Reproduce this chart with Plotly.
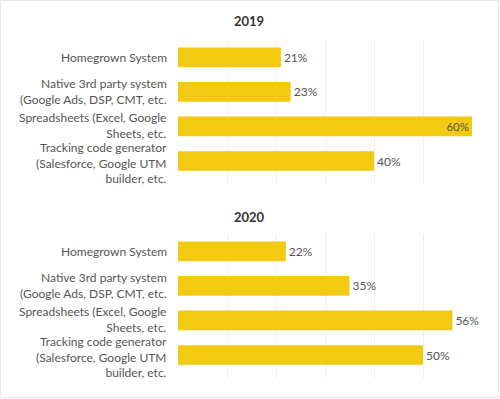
import plotly.graph_objects as go

categories = [
    "Homegrown System",
    "Native 3rd party system<br>(Google Ads, DSP, CMT, etc.",
    "Spreadsheets (Excel, Google<br>Sheets, etc.",
    "Tracking code generator<br>(Salesforce, Google UTM<br>builder, etc.",
]
values_2019 = [21, 23, 60, 40]
values_2020 = [22, 35, 56, 50]
years = ["2019", "2020"]
x_ticks = [0, 10, 20, 30, 40, 50, 60]

W, H = 500, 399
L, R = 178, 28
BAR = "#F2CA12"
FONT = "Lato"
LABEL_COLOR = "#555555"
LABEL_NUDGE = [0, 0, 1, -2]  # small vertical offsets (px) of the category labels

def ydom(top_px, bot_px):
    return [1 - bot_px / H, 1 - top_px / H]

fig = go.Figure()

for i, (vals, yr) in enumerate(zip([values_2019, values_2020], years)):
    pos = ["inside" if v >= 58 else "outside" for v in vals]
    fig.add_trace(go.Bar(
        x=vals, y=categories, orientation="h",
        marker=dict(color=BAR, line=dict(width=0)),
        width=0.57,
        text=[f"{v}%" for v in vals],
        textposition=pos,
        insidetextanchor="end",
        outsidetextfont=dict(family=FONT, size=12, color=LABEL_COLOR),
        insidetextfont=dict(family=FONT, size=11.5, color=LABEL_COLOR),
        cliponaxis=False,
        xaxis="x" if i == 0 else "x2",
        yaxis="y" if i == 0 else "y2",
        showlegend=False,
        hoverinfo="skip",
    ))

axis_x = dict(range=[0, 60], tickvals=x_ticks, showticklabels=False,
              showgrid=True, gridcolor="#EFEFEF", gridwidth=1,
              zeroline=False, showline=False, fixedrange=True, automargin=False)
axis_y = dict(autorange="reversed", showgrid=False, zeroline=False,
              showline=False, ticks="", showticklabels=False, automargin=False,
              fixedrange=True)

fig.update_layout(
    width=W, height=H,
    margin=dict(l=L, r=R, t=0, b=0),
    paper_bgcolor="white", plot_bgcolor="white",
    uniformtext=dict(mode=False),
    xaxis=dict(axis_x, domain=[0, 1], anchor="y"),
    yaxis=dict(axis_y, domain=ydom(40, 184), anchor="x"),
    xaxis2=dict(axis_x, domain=[0, 1], anchor="y2"),
    yaxis2=dict(axis_y, domain=ydom(234, 378), anchor="x2"),
)

# category labels
for yref in ["y", "y2"]:
    for cat, nudge in zip(categories, LABEL_NUDGE):
        fig.add_annotation(
            text=cat, xref="paper", yref=yref, x=0, y=cat,
            xanchor="right", yanchor="middle", align="right", xshift=-9,
            yshift=nudge, showarrow=False,
            font=dict(family=FONT, size=12, color=LABEL_COLOR),
        )

pw = W - L - R
title_x = (W / 2 - 1 - L) / pw
for yr, ypx in zip(years, [21, 217]):
    fig.add_annotation(text=f"<b>{yr}</b>", xref="paper", yref="paper",
                       x=title_x, y=1 - ypx / H, xanchor="center", yanchor="middle",
                       showarrow=False,
                       font=dict(family=FONT, size=13, color="#333333"))

# outer frame
fig.add_shape(type="rect", xref="paper", yref="paper",
              x0=(0.5 - L) / pw, x1=(W - 1.5 - L) / pw,
              y0=1.5 / H, y1=1 - 0.5 / H,
              line=dict(color="#E6E6E6", width=1), fillcolor="rgba(0,0,0,0)")

fig.write_html("out.html", config={"displayModeBar": False},
               post_script="document.body.style.margin='0';document.body.style.overflow='hidden';")
